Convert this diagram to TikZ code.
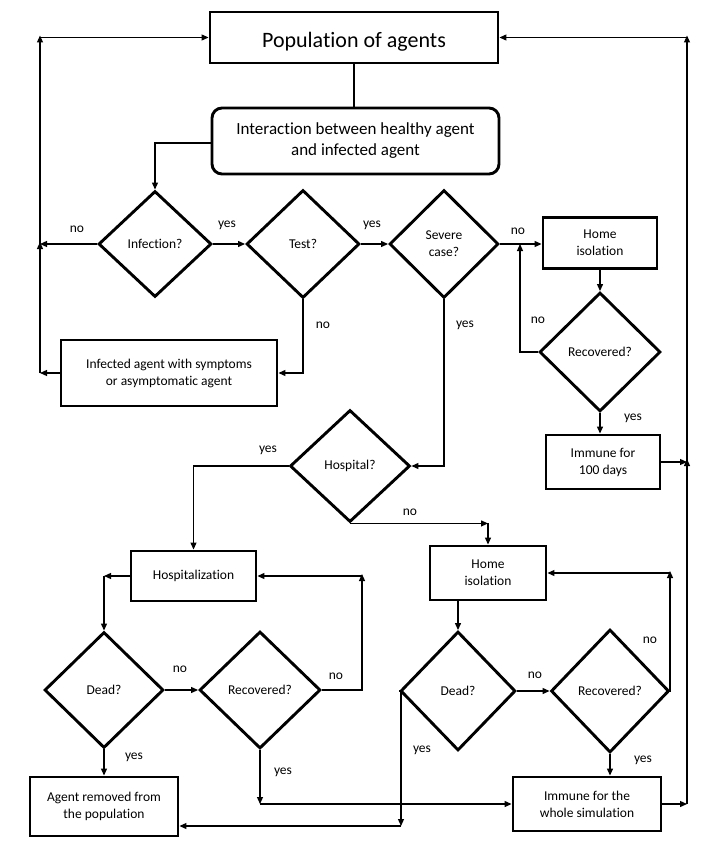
\documentclass[tikz,border=0pt]{standalone}
\usepackage{fontspec}
\setmainfont{Carlito}[Ligatures={NoCommon}]
\usetikzlibrary{shapes.geometric,arrows.meta}
\begin{document}
\begin{tikzpicture}[x=1pt,y=-1pt,
  box/.style={draw,line width=2.9pt,rectangle,inner sep=0pt,align=center,font=\fontsize{13.5}{17}\selectfont},
  dia/.style={draw,line width=2.9pt,diamond,inner sep=0pt,align=center,font=\fontsize{13.5}{17}\selectfont},
  conn/.style={line width=1.2pt,-{Triangle[length=7pt,width=6pt]}},
  plain/.style={line width=1.2pt},
  lbl/.style={font=\fontsize{13.5}{16}\selectfont,inner sep=0pt}]
\useasboundingbox (0,0) rectangle (708,850);
\fill[white] (0,0) rectangle (708,850);
% boxes
\node[box,minimum width=288pt,minimum height=51pt,font=\fontsize{22}{26}\selectfont,text height=26pt,text depth=5pt] (pop) at (354,37.5) {Population of agents};
\node[box,rounded corners=10pt,minimum width=287pt,minimum height=66pt,font=\fontsize{17}{21}\selectfont] (inter) at (355.5,141) {Interaction between healthy agent\\and infected agent};
\node[dia,minimum width=113pt,minimum height=106pt] (infection) at (155,244) {Infection?};
\node[dia,minimum width=113pt,minimum height=108pt] (test) at (303,244) {Test?};
\node[dia,minimum width=109pt,minimum height=108pt] (severe) at (444,244) {Severe\\case?};
\node[box,minimum width=114pt,minimum height=51pt] (home1) at (600,243) {Home\\isolation};
\node[dia,minimum width=121pt,minimum height=119pt] (rtop) at (600,352) {Recovered?};
\node[box,minimum width=114pt,minimum height=54pt] (imm100) at (603,462) {Immune for\\100 days};
\node[box,minimum width=216pt,minimum height=66pt] (infected) at (169,373) {Infected agent with symptoms\\or asymptomatic agent};
\node[dia,minimum width=120pt,minimum height=112pt] (hospital) at (350,466) {Hospital?};
\node[box,minimum width=125pt,minimum height=50pt] (hosp) at (193.5,576) {Hospitalization};
\node[box,minimum width=116pt,minimum height=54pt] (home2) at (488,573) {Home\\isolation};
\node[dia,minimum width=119pt,minimum height=116pt] (dead1) at (104,690) {Dead?};
\node[dia,minimum width=121pt,minimum height=117pt] (rec1) at (260,690) {Recovered?};
\node[dia,minimum width=115pt,minimum height=119pt] (dead2) at (458,691) {Dead?};
\node[dia,minimum width=118pt,minimum height=123pt] (rec2) at (610,691) {Recovered?};
\node[box,minimum width=148pt,minimum height=59pt] (removed) at (104,806.5) {Agent removed from\\the population};
\node[box,minimum width=148pt,minimum height=54pt] (immw) at (587,804) {Immune for the\\whole simulation};
% coordinates
\coordinate (L1) at (40,373);
\coordinate (L2) at (40,244);
\coordinate (L3) at (40,37.5);
\coordinate (R1) at (687,804);
\coordinate (R2) at (687,462);
\coordinate (R3) at (687,37.5);
\coordinate (J1) at (520,244);
\coordinate (H1) at (104,576);
\coordinate (H2) at (362,690);
\coordinate (H3) at (362,576);
\coordinate (B1) at (260,804);
\coordinate (B2) at (401,826);
\coordinate (K1) at (670,691);
\coordinate (K2) at (670,573);
% connectors
\draw[plain] (pop.south) -- (pop.south |- inter.north);
\draw[conn] (inter.west |- 0,143) -| (infection.north);
\draw[conn] (infection.east) -- (test.west);
\draw[conn] (test.east) -- (severe.west);
\draw[conn] (severe.east) -- (home1.west |- severe.east);
\draw[conn] (home1.south) -- (rtop.north);
\draw[conn] (rtop.west) -| (J1);
\draw[conn] (rtop.south) -- (rtop.south |- imm100.north);
\draw[conn] (imm100.east) -- (R2);
\draw[conn] (immw.east) -- (R1);
\draw[conn] (R1) -- ([yshift=3pt]R2);
\draw[conn] (R2) -- ([yshift=2pt]R3);
\draw[conn] (R3) -- (pop.east);
\draw[conn] (infected.west) -- (L1);
\draw[conn] (infection.west) -- (L2);
\draw[conn] (L1) -- ([yshift=2pt]L2);
\draw[conn] (L2) -- ([yshift=2pt]L3);
\draw[conn] (L3) -- (pop.west);
\draw[conn] (test.south) |- (infected.east);
\draw[conn] (severe.south) |- (hospital.east);
\draw[conn] (hospital.west) -| (hosp.north);
\coordinate (N1) at (hospital.south -| home2.north);
\draw[conn] (hospital.south) -- (N1);
\draw[conn] (N1) -- (home2.north);
\draw[conn] (hosp.west) -- (H1);
\draw[conn] (H1) -- (dead1.north);
\draw[conn] (dead1.east) -- (rec1.west);
\draw[conn] (rec1.east) -- (H2) -- ([yshift=2pt]H3);
\draw[conn] (H3) -- (hosp.east);
\draw[conn] (dead1.south) -- (removed.north);
\draw[conn] (rec1.south) -- (B1);
\draw[conn] (B1) -- (immw.west);
\draw[conn] (dead2.west) -- (B2 |- dead2.west) -- (B2);
\draw[conn] (B2) -- (B2 -| removed.east);
\draw[conn] (dead2.north |- home2.south) -- (dead2.north);
\draw[conn] (dead2.east) -- (rec2.west);
\draw[conn] (rec2.east) -- (K1) -- ([yshift=2pt]K2);
\draw[conn] (K2) -- (home2.east);
\draw[conn] (rec2.south) -- (rec2.south |- immw.north);
% labels
\node[lbl] (l1) at (77,229) {no};
\node[lbl] (l2) at (227,225) {yes};
\node[lbl] (l3) at (372,225) {yes};
\node[lbl] (l4) at (518,231) {no};
\node[lbl] (l5) at (323,325) {no};
\node[lbl] (l6) at (465,325) {yes};
\node[lbl] (l7) at (538,320) {no};
\node[lbl] (l8) at (633,418) {yes};
\node[lbl] (l9) at (268,450) {yes};
\node[lbl] (l10) at (410,512) {no};
\node[lbl] (l11) at (180,669) {no};
\node[lbl] (l12) at (336,676) {no};
\node[lbl] (l13) at (134,757) {yes};
\node[lbl] (l14) at (283,772) {yes};
\node[lbl] (l15) at (422,750) {yes};
\node[lbl] (l16) at (535,675) {no};
\node[lbl] (l17) at (650,640) {no};
\node[lbl] (l18) at (643,760) {yes};
\end{tikzpicture}
\end{document}
